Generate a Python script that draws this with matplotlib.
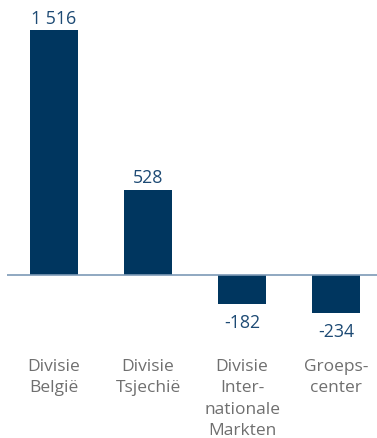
import matplotlib.pyplot as plt

# Results per division (in million EUR)
categories = ["Divisie\nBelgië", "Divisie\nTsjechië", "Divisie\nInter-\nnationale\nMarkten", "Groeps-\ncenter"]
values = [1516, 528, -182, -234]
value_labels = ["1 516", "528", "-182", "-234"]

BAR_COLOR = "#00365f"
TEXT_BLUE = "#1d4a74"
TEXT_GREY = "#6f6f6f"
LINE_COLOR = "#7d9ab6"

plt.rcParams["font.family"] = ["Open Sans", "DejaVu Sans"]

W, H = 377, 439
fig = plt.figure(figsize=(W / 100, H / 100), dpi=100)
ax = fig.add_axes([7 / W, 1 - 340 / H, 370 / W, 340 / H])

x = list(range(len(values)))
ax.bar(x, values, width=0.51, color=BAR_COLOR)
ax.axhline(0, color=LINE_COLOR, linewidth=1.2)

for xi, v, lab in zip(x, values, value_labels):
    if v >= 0:
        ax.annotate(lab, (xi, v), xytext=(0, 2.5), textcoords="offset points",
                    ha="center", va="bottom", fontsize=12.8, color=TEXT_BLUE)
    else:
        ax.annotate(lab, (xi, v), xytext=(0, -6.5), textcoords="offset points",
                    ha="center", va="top", fontsize=12.8, color=TEXT_BLUE)

ax.set_xlim(-0.5, 3.436)
ax.set_ylim(-396, 1708)
ax.set_xticks(x)
ax.set_xticklabels(categories, fontsize=12.5, color=TEXT_GREY, linespacing=1.42)
ax.tick_params(axis="x", length=0, pad=14)
ax.set_yticks([])
for s in ax.spines.values():
    s.set_visible(False)

fig.savefig("out.png", dpi=100)
